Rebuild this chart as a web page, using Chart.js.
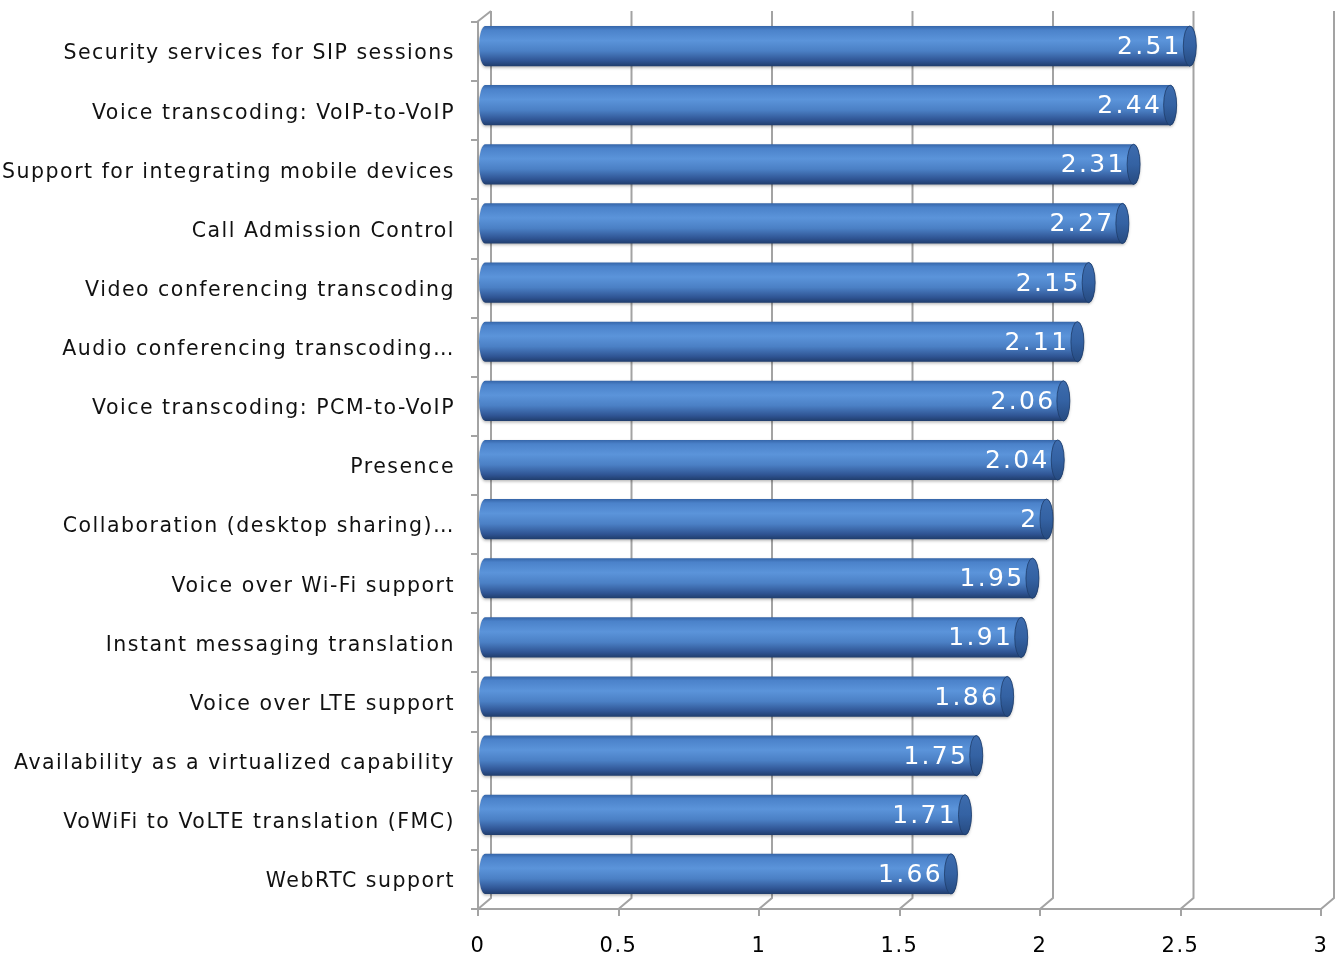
<!DOCTYPE html>
<html>
<head>
<meta charset="utf-8">
<title>SBC capability ratings</title>
<script src="https://cdn.jsdelivr.net/npm/chart.js@4.4.1/dist/chart.umd.min.js"></script>
<style>
  html, body { margin: 0; padding: 0; background: #ffffff; }
  #wrap { width: 1337px; height: 959px; position: relative; }
</style>
</head>
<body>
<div id="wrap"><canvas id="chart"></canvas></div>
<script>
const categories = [
  'Security services for SIP sessions',
  'Voice transcoding: VoIP-to-VoIP',
  'Support for integrating mobile devices',
  'Call Admission Control',
  'Video conferencing transcoding',
  'Audio conferencing transcoding…',
  'Voice transcoding: PCM-to-VoIP',
  'Presence',
  'Collaboration (desktop sharing)…',
  'Voice over Wi-Fi support',
  'Instant messaging translation',
  'Voice over LTE support',
  'Availability as a virtualized capability',
  'VoWiFi to VoLTE translation (FMC)',
  'WebRTC support'
];
const ratings = [2.51, 2.44, 2.31, 2.27, 2.15, 2.11, 2.06, 2.04, 2, 1.95, 1.91, 1.86, 1.75, 1.71, 1.66];
const axisMin = 0;
const axisMax = 3;
const axisStep = 0.5;

// depth of the 3D box (back wall offset from the front plane)
const DEPTH_X = 13;
const DEPTH_Y = -11;
const GRID_COLOR = '#a3a3a3';
const FONT = '"DejaVu Sans", Verdana, sans-serif';

// draws the back wall gridlines with their floor diagonals
const wallPlugin = {
  id: 'wall',
  beforeDraw(chart) {
    chart.ctx.letterSpacing = '1.5px';
  },
  beforeDatasetsDraw(chart) {
    const { ctx, chartArea, scales } = chart;
    const xs = scales.x;
    ctx.save();
    ctx.strokeStyle = GRID_COLOR;
    ctx.lineWidth = 2;
    ctx.beginPath();
    xs.ticks.forEach(t => {
      const px = xs.getPixelForValue(t.value);
      ctx.moveTo(px + DEPTH_X, chartArea.top + DEPTH_Y);
      ctx.lineTo(px + DEPTH_X, chartArea.bottom + DEPTH_Y);
      ctx.lineTo(px, chartArea.bottom);
    });
    // top-left corner of the side wall
    ctx.moveTo(chartArea.left - 1, chartArea.top);
    ctx.lineTo(chartArea.left + DEPTH_X, chartArea.top + DEPTH_Y);
    ctx.stroke();
    ctx.restore();
  }
};

// draws each bar as a cylinder with an end cap and a value label
const cylinderPlugin = {
  id: 'cylinders',
  afterDatasetsDraw(chart) {
    const { ctx } = chart;
    const meta = chart.getDatasetMeta(0);
    const ox = DEPTH_X / 2, oy = DEPTH_Y / 2;
    meta.data.forEach((bar, i) => {
      const h = bar.height;
      const cy = bar.y + oy;
      const top = cy - h / 2, bottom = cy + h / 2;
      const x0 = bar.base + ox;
      const x1 = bar.x + ox;
      const rx = 6.5, ry = h / 2;

      ctx.save();
      const g = ctx.createLinearGradient(0, top, 0, bottom);
      g.addColorStop(0, '#3565a8');
      g.addColorStop(0.1, '#4b82ca');
      g.addColorStop(0.36, '#5b94da');
      g.addColorStop(0.62, '#4b80c5');
      g.addColorStop(0.87, '#2f5493');
      g.addColorStop(1, '#203d6c');

      ctx.shadowColor = 'rgba(0,0,0,0.28)';
      ctx.shadowBlur = 3;
      ctx.shadowOffsetY = 1.5;
      ctx.beginPath();
      ctx.moveTo(x0, top);
      ctx.lineTo(x1, top);
      ctx.ellipse(x1, cy, rx, ry, 0, -Math.PI / 2, Math.PI / 2, false);
      ctx.lineTo(x0, bottom);
      ctx.ellipse(x0, cy, rx, ry, 0, Math.PI / 2, Math.PI * 1.5, false);
      ctx.closePath();
      ctx.fillStyle = g;
      ctx.fill();
      ctx.shadowColor = 'transparent';

      // end cap
      const cg = ctx.createLinearGradient(0, top, 0, bottom);
      cg.addColorStop(0, '#3d6cae');
      cg.addColorStop(0.5, '#3462a3');
      cg.addColorStop(1, '#264a80');
      ctx.beginPath();
      ctx.ellipse(x1, cy, rx, ry, 0, 0, Math.PI * 2);
      ctx.fillStyle = cg;
      ctx.fill();
      ctx.strokeStyle = 'rgba(30,60,105,0.8)';
      ctx.lineWidth = 1;
      ctx.stroke();

      // value label
      ctx.fillStyle = '#ffffff';
      ctx.font = '25px ' + FONT;
      ctx.letterSpacing = '2.3px';
      ctx.textAlign = 'right';
      ctx.textBaseline = 'middle';
      ctx.fillText(String(ratings[i]), x1 - 8, cy + 1.5);
      ctx.restore();
    });
  }
};

new Chart(document.getElementById('chart'), {
  type: 'bar',
  data: {
    labels: categories,
    datasets: [{
      data: ratings,
      backgroundColor: 'rgba(0,0,0,0)',
      borderWidth: 0,
      barPercentage: 0.68,
      categoryPercentage: 1
    }]
  },
  options: {
    indexAxis: 'y',
    responsive: true,
    maintainAspectRatio: false,
    animation: false,
    events: [],
    layout: { padding: { top: 22, right: 16, left: 0, bottom: 0 } },
    plugins: {
      legend: { display: false },
      tooltip: { enabled: false }
    },
    scales: {
      x: {
        min: axisMin,
        max: axisMax,
        afterFit(scale) {
          scale.height = 50;
          scale.paddingLeft = 0;
          scale.paddingRight = 0;
        },
        ticks: {
          stepSize: axisStep,
          color: '#000000',
          font: { family: FONT, size: 21 },
          padding: 18,
          maxRotation: 0,
          callback: v => String(v)
        },
        grid: {
          drawOnChartArea: false,
          drawTicks: true,
          tickLength: 7,
          color: GRID_COLOR,
          lineWidth: 2
        },
        border: { display: true, color: GRID_COLOR, width: 2 }
      },
      y: {
        afterFit(scale) {
          scale.width = 478;
          scale.paddingTop = 0;
          scale.paddingBottom = 0;
        },
        ticks: {
          color: '#111111',
          font: { family: FONT, size: 20.5 },
          padding: 16,
          labelOffset: 2.5,
          autoSkip: false
        },
        grid: {
          drawOnChartArea: false,
          drawTicks: true,
          tickLength: 7,
          offset: true,
          color: GRID_COLOR,
          lineWidth: 2
        },
        border: { display: true, color: GRID_COLOR, width: 2 }
      }
    }
  },
  plugins: [wallPlugin, cylinderPlugin]
});
</script>
</body>
</html>
